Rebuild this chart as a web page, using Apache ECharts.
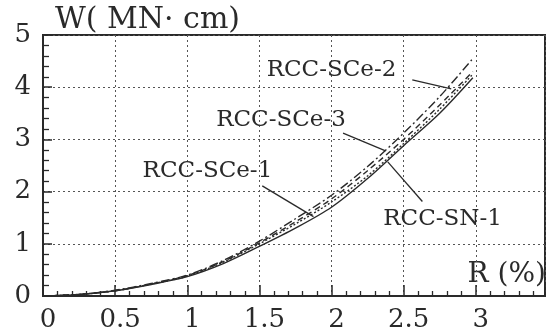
<html>
  <head>
    <script src="https://cdn.jsdelivr.net/npm/echarts@6/dist/echarts.min.js"></script>
    <style>
      html, body { margin: 0; padding: 0; background: #fff; }
      #chart { width: 550px; height: 333px; }
    </style>
  </head>
  <body>
    <div id="chart"></div>
    <script>
      // R (%) sample points
      const rValues = [0, 0.25, 0.5, 0.75, 1, 1.25, 1.5, 1.75, 2, 2.25, 2.5, 2.75, 2.98]
      // W (MN·cm) for each specimen
      const sce1 = [0, 0.03, 0.1, 0.23, 0.38, 0.65, 1.0, 1.38, 1.8, 2.3, 2.92, 3.58, 4.25]
      const sce2 = [0, 0.03, 0.11, 0.24, 0.4, 0.68, 1.05, 1.48, 1.93, 2.48, 3.12, 3.82, 4.55]
      const sce3 = [0, 0.03, 0.1, 0.23, 0.39, 0.66, 1.02, 1.42, 1.86, 2.4, 3.0, 3.66, 4.3]
      const sn1 = [0, 0.03, 0.1, 0.22, 0.37, 0.62, 0.95, 1.3, 1.7, 2.25, 2.88, 3.5, 4.18]
      const xTicks = ['0', '0.5', '1', '1.5', '2', '2.5', '3']

      const serif = 'DejaVu Serif'
      const ink = '#2a2a2a'

      const pairs = arr => rValues.map((r, i) => [r, arr[i]])

      // 曲线 + 标注
      const curve = (name, arr, type, labelAt, from, to) => ({
        name: name,
        type: 'line',
        data: pairs(arr),
        symbol: 'none',
        smooth: 0.3,
        lineStyle: { color: ink, width: 1.4, type: type },
        markPoint: {
          symbol: 'circle',
          symbolSize: 0,
          silent: true,
          label: {
            show: true,
            position: 'inside',
            formatter: name,
            color: ink,
            fontFamily: serif,
            fontSize: 23
          },
          data: [{ coord: labelAt }]
        },
        markLine: {
          symbol: 'none',
          silent: true,
          label: { show: false },
          lineStyle: { color: ink, width: 1.3, type: 'solid' },
          data: [[{ coord: from }, { coord: to }]]
        }
      })

      const myChart = echarts.init(document.getElementById('chart'))
      myChart.setOption({
        animation: false,
        backgroundColor: '#fff',
        grid: {
          left: 43,
          right: 5,
          top: 35,
          bottom: 35,
          show: true,
          borderColor: ink,
          borderWidth: 2
        },
        xAxis: {
          type: 'value',
          min: 0,
          max: 3.48,
          interval: 0.5,
          axisLine: { lineStyle: { color: ink, width: 2 } },
          axisTick: { inside: true, length: 11, lineStyle: { color: ink, width: 1.5 } },
          minorTick: { show: true, splitNumber: 5, length: 5, lineStyle: { color: ink, width: 1.3 } },
          splitLine: { show: true, lineStyle: { color: '#555', width: 1, type: [2, 3] } },
          axisLabel: {
            color: ink,
            fontFamily: serif,
            fontSize: 26,
            margin: 11,
            padding: [0, 0, 0, 10],
            showMaxLabel: false,
            formatter: v => {
              const k = Math.round(v * 2)
              return Math.abs(v * 2 - k) < 1e-6 && k < xTicks.length ? xTicks[k] : ''
            }
          }
        },
        yAxis: {
          type: 'value',
          min: 0,
          max: 5,
          interval: 1,
          axisLine: { show: true, lineStyle: { color: ink, width: 2 } },
          axisTick: { show: true, inside: true, length: 9, lineStyle: { color: ink, width: 1.5 } },
          minorTick: { show: true, splitNumber: 5, length: 6, lineStyle: { color: ink, width: 1.3 } },
          splitLine: { show: true, lineStyle: { color: '#555', width: 1, type: [2, 3] } },
          axisLabel: {
            color: ink,
            fontFamily: serif,
            fontSize: 26,
            margin: 12
          }
        },
        graphic: [
          {
            type: 'text',
            left: 55,
            top: 5,
            style: { text: 'W( MN· cm)', font: '30px "DejaVu Serif"', fill: ink }
          },
          {
            type: 'text',
            right: 4,
            top: 261,
            style: { text: 'R (%)', font: '28px "DejaVu Serif"', fill: ink }
          }
        ],
        series: [
          curve('RCC-SCe-1', sce1, [2, 2], [1.14, 2.4], [1.52, 2.11], [1.875, 1.52]),
          curve('RCC-SCe-2', sce2, [9, 3, 2, 3], [2.0, 4.33], [2.56, 4.14], [2.83, 3.97]),
          curve('RCC-SCe-3', sce3, [6, 4], [1.65, 3.38], [2.08, 3.12], [2.375, 2.78]),
          curve('RCC-SN-1', sn1, 'solid', [2.77, 1.48], [2.39, 2.57], [2.63, 1.81])
        ]
      })
    </script>
  </body>
</html>
